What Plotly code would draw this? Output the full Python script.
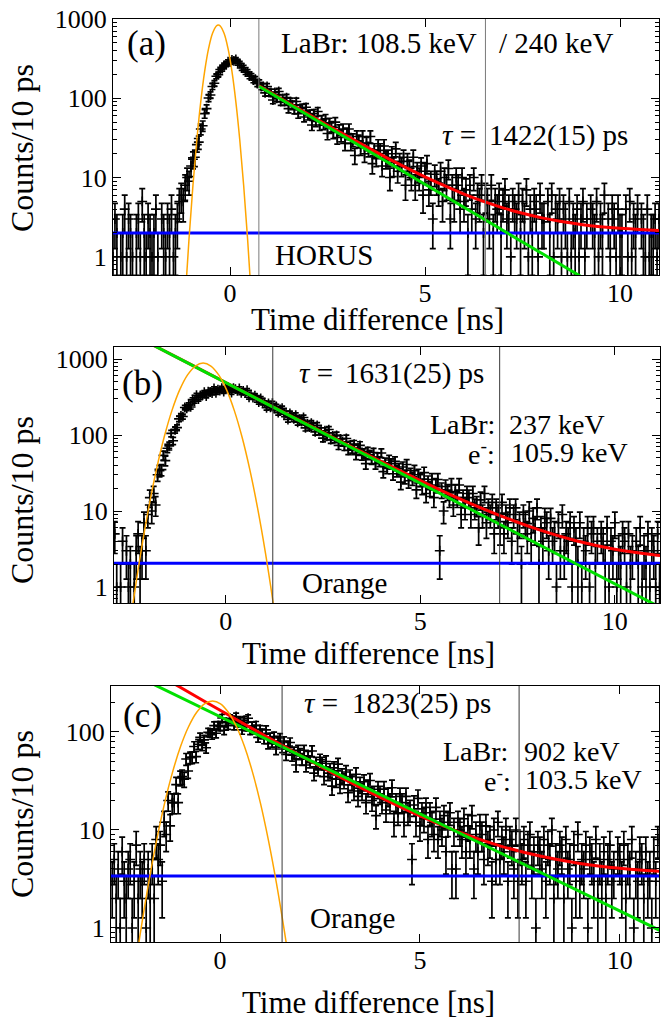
import numpy as np
import plotly.graph_objects as go

W, H = 661, 1021

# ---------------- data: counts per bin, one bin shown every 0.05 ns ----------------
bin_step = 0.05
t0_a, t0_b, t0_c = -3.00, -2.85, -2.70
counts_a = [
    1, 3, 2, 0, 1, 2, 4, 1, 3, 2, 1, 0, 2, 3, 1, 5, 2, 1, 3, 2, 1, 2, 4, 1, 0, 3, 2, 1, 3, 2, 4, 1, 2,
    3, 5, 6, 5, 8, 10, 9, 14, 17, 18, 26, 28, 41, 45, 64, 74, 101, 110, 141, 155, 190, 199, 231, 236,
    261, 266, 289, 285, 304,
    296, 309, 279, 275, 241, 244, 214, 215, 190, 191, 170, 174, 153, 158, 140,
    141, 117, 141, 118, 119, 95, 119, 100, 122, 91, 100, 91, 102, 74, 91, 83, 72, 91, 64, 74,
    75, 58, 77, 61, 63, 46, 64, 51, 68, 46, 53, 47, 55, 36, 49, 44, 37, 50, 32, 40,
    34, 41, 27, 36, 41, 27, 30, 19, 33, 29, 24, 33, 20, 27, 23, 33, 15, 22, 18, 25,
    22, 14, 25, 17, 18, 10, 20, 14, 23, 12, 16, 14, 18, 8, 16, 13, 10, 18, 8, 12,
    10, 14, 6, 12, 15, 7, 9, 3, 11, 9, 7, 12, 5, 10, 8, 13, 3, 8, 5, 10,
    8, 4, 10, 5, 7, 2, 8, 4, 10, 3, 6, 5, 8, 2, 6, 5, 3, 8, 2, 5,
    4, 6, 2, 5, 7, 3, 4, 1, 5, 4, 3, 6, 2, 5, 3, 7, 1, 4, 2, 5,
    4, 1, 6, 3, 3, 0, 5, 2, 6, 1, 4, 3, 5, 1, 4, 3, 1, 5, 1, 3,
    2, 4, 1, 3, 5, 1, 3, 0, 4, 3, 2, 5, 1, 3, 2, 6, 0, 3, 1, 4,
    3, 1, 4, 2, 2, 0, 4, 1, 5, 1, 3, 2, 4, 0, 3, 2, 1, 4, 1, 2,
    2, 3, 1, 3]
counts_b = [
    5, 1, 0, 1, 4, 0, 3, 1, 2, 0, 1, 3, 5, 2,
    3, 7, 3, 9, 15, 10, 17, 12, 30, 34, 35, 54, 46, 67, 72, 105, 84, 117, 125, 163,
    178, 175, 230, 225, 249, 234, 292, 280, 334, 296, 331, 331, 366, 326, 372, 368, 357, 409, 360, 394,
    384, 415, 372, 410, 431,
    401, 362, 414, 401, 381, 411, 359, 381, 358, 388, 314, 336, 311, 330, 310, 271, 303, 266, 266,
    228, 261, 231, 262,
    224, 238, 197, 217, 225, 188, 192, 160, 192, 179, 163, 182, 147, 162, 150, 170, 124, 140, 127, 143,
    133, 110, 134, 112, 114, 91, 114, 96, 118, 87, 97, 89, 99, 73, 89, 81, 71, 90, 63, 74,
    66, 76, 55, 67, 73, 54, 58, 42, 61, 55, 48, 59, 42, 51, 45, 58, 33, 43, 37, 47,
    42, 31, 45, 34, 36, 24, 38, 28, 41, 25, 31, 27, 34, 19, 30, 26, 21, 32, 17, 24,
    20, 26, 15, 22, 26, 3, 19, 10, 21, 18, 15, 22, 12, 18, 15, 22, 9, 15, 11, 17,
    15, 9, 17, 11, 12, 6, 14, 9, 17, 7, 11, 9, 13, 5, 11, 9, 6, 13, 5, 9,
    7, 11, 4, 9, 11, 5, 7, 2, 9, 7, 5, 10, 4, 8, 6, 11, 2, 6, 4, 8,
    7, 3, 8, 4, 5, 1, 7, 3, 9, 3, 5, 4, 7, 1, 6, 4, 2, 7, 1, 4,
    3, 6, 1, 5, 6, 2, 4, 0, 5, 4, 2, 6, 1, 4, 3, 7, 1, 3, 2, 5,
    4, 1, 5, 2, 3, 0, 4, 2, 6, 1, 3, 2, 5, 1, 4, 3, 1, 5, 1]
counts_c = [
    3, 5, 2, 4, 1, 6, 3, 2, 4, 5, 1, 3, 7, 2, 4, 3, 5, 1, 4, 2,
    5, 2, 8, 5, 7, 3, 12, 9, 20, 11, 19, 19, 29, 19, 34, 35, 33, 53, 40, 55,
    55, 71, 56, 75, 88, 73, 83, 69, 99, 98, 94, 116, 97, 117, 113, 139, 104, 124, 117, 138, 134,
    116, 144, 124, 128, 105, 132, 113, 138, 104, 115, 106, 117, 88, 106, 97, 85, 105, 76, 88,
    79, 90, 67, 81, 87,
    70, 80, 59, 72, 78, 58, 62, 46, 65, 60, 53, 65, 46, 56, 50, 64, 38, 48, 42, 52,
    48, 35, 50, 38, 41, 28, 43, 33, 47, 29, 36, 32, 39, 24, 35, 31, 25, 37, 22, 29,
    25, 31, 19, 27, 32, 20, 23, 14, 26, 23, 19, 26, 16, 22, 19, 27, 12, 19, 15, 22,
    19, 12, 22, 15, 16, 5, 18, 12, 21, 11, 15, 13, 17, 8, 15, 12, 9, 17, 8, 12,
    10, 14, 6, 12, 15, 4, 10, 4, 12, 10, 8, 13, 6, 11, 8, 14, 4, 9, 6, 11,
    9, 5, 11, 7, 8, 3, 10, 5, 12, 5, 8, 6, 10, 3, 8, 7, 4, 10, 3, 7,
    5, 8, 3, 7, 9, 4, 6, 1, 7, 6, 4, 8, 3, 7, 5, 10, 2, 5, 4, 7,
    6, 2, 8, 4, 5, 1, 7, 3, 9, 3, 5, 4, 7, 1, 6, 5, 3, 8, 2, 5,
    3, 6, 2, 5, 7, 3, 4, 0, 6, 5, 3, 7, 2, 5, 4, 8, 1, 4, 3, 6,
    5, 2, 6, 3, 4, 1, 6, 3, 8, 2]

# ---------------- fit curves ----------------
red_a_x = [0.74, 1.0, 1.5, 2.0, 2.5, 3.0, 3.5, 4.0, 4.5, 5.0, 5.5, 6.0, 6.5, 7.0, 7.5, 8.0, 8.5, 9.0, 9.5, 10.0, 10.5, 11.0]
red_a_y = [144, 121.2, 87.3, 63.1, 45.7, 33.3, 24.4, 18.0, 13.5, 10.2, 7.9, 6.2, 5.0, 4.15, 3.54, 3.10, 2.79, 2.56, 2.40, 2.29, 2.21, 2.15]
green_a_x = [0.74, 9.2]
green_a_y = [142, 0.494]
orange_a_x = [-1.15, -1.05, -0.95, -0.85, -0.75, -0.65, -0.55, -0.45, -0.35, -0.3, -0.25, -0.15, -0.05, 0.05, 0.15, 0.25, 0.35, 0.45, 0.55]
orange_a_y = [0.294, 1.71, 8.0, 30.0, 90.2, 218, 422, 655, 817, 840, 817, 655, 422, 218, 90.2, 30.0, 8.0, 1.71, 0.294]
bg_a = 2.0
gates_a = [0.74, 6.55]

red_b_x = [-1.9, -1, 0, 1, 2, 3, 4, 5, 6, 7, 8, 9, 10, 11, 11.2]
red_b_y = [1558, 902, 491, 267.6, 146.3, 80.4, 44.7, 25.2, 14.6, 8.9, 5.77, 4.07, 3.15, 2.65, 2.58]
green_b_x = [-1.9, 11.2]
green_b_y = [1556, 0.53]
orange_b_x = [-2.48, -2.38, -2.18, -1.98, -1.78, -1.58, -1.38, -1.18, -0.98, -0.78, -0.58, -0.38, -0.18, 0.02, 0.22, 0.42, 0.62, 0.82, 1.02, 1.22, 1.32]
orange_b_y = [0.27, 0.62, 2.84, 10.9, 35.0, 94, 211, 395, 618, 809, 885, 809, 618, 395, 211, 94, 35.0, 10.9, 2.84, 0.62, 0.27]
bg_b = 2.05
gates_b = [1.21, 7.04]

red_c_x = [-1.2, -1, 0, 1, 2, 3, 4, 5, 6, 7, 8, 9, 10, 11]
red_c_y = [318.9, 285.9, 166.6, 97.6, 57.8, 34.8, 21.6, 13.9, 9.45, 6.89, 5.42, 4.56, 4.07, 3.79]
green_c_x = [-1.7, 11.0]
green_c_y = [311, 0.946]
orange_c_x = [-2.14, -1.99, -1.79, -1.59, -1.39, -1.19, -0.99, -0.79, -0.59, -0.39, -0.19, 0.01, 0.21, 0.41, 0.61, 0.81, 1.01, 1.21, 1.41, 1.61, 1.76]
orange_c_y = [0.36, 0.92, 2.86, 7.8, 18.7, 38.9, 71, 113, 158, 194, 207, 194, 158, 113, 71, 38.9, 18.7, 7.8, 2.86, 0.92, 0.36]
bg_c = 3.4
gates_c = [1.55, 7.48]

panels = [
    dict(t0=t0_a, counts=counts_a, red=(red_a_x, red_a_y), green=(green_a_x, green_a_y),
         orange=(orange_a_x, orange_a_y), bg=bg_a, gates=gates_a, xr=[-3.0, 11.0], yr=[-0.229, 3.0],
         px=(113, 659), py=(19, 275), gate_col='#7a7a7a'),
    dict(t0=t0_b, counts=counts_b, red=(red_b_x, red_b_y), green=(green_b_x, green_b_y),
         orange=(orange_b_x, orange_b_y), bg=bg_b, gates=gates_b, xr=[-2.87, 11.16], yr=[-0.21, 3.158],
         px=(114, 660), py=(347, 603), gate_col='#3a3a3a'),
    dict(t0=t0_c, counts=counts_c, red=(red_c_x, red_c_y), green=(green_c_x, green_c_y),
         orange=(orange_c_x, orange_c_y), bg=bg_c, gates=gates_c, xr=[-2.73, 10.98], yr=[-0.143, 2.469],
         px=(111, 659), py=(686, 942), gate_col='#3a3a3a'),
]

SERIF = 'Liberation Serif'
fig = go.Figure()
shapes = []
minor_vals = [k * 10 ** d for d in range(-1, 4) for k in range(2, 10)]

for i, p in enumerate(panels):
    n = '' if i == 0 else str(i + 1)
    xa, ya = 'x' + n, 'y' + n
    c = np.array(p['counts'], dtype=float)
    t = np.round(p['t0'] + bin_step * np.arange(len(c)), 3)
    y = np.where(c > 0, c, np.nan)
    err = np.sqrt(c)
    fig.add_trace(go.Scatter(
        x=t, y=y, mode='markers', xaxis=xa, yaxis=ya,
        marker=dict(symbol='cross-thin', size=7, color='black', line=dict(color='black', width=1.6)),
        error_y=dict(type='data', array=err, visible=True, color='black', thickness=1.7, width=3),
        hoverinfo='skip'))
    fig.add_trace(go.Scatter(x=[p['xr'][0], p['xr'][1]], y=[p['bg'], p['bg']], mode='lines',
                             xaxis=xa, yaxis=ya, line=dict(color='#0000ff', width=3)))
    fig.add_trace(go.Scatter(x=p['red'][0], y=p['red'][1], mode='lines', xaxis=xa, yaxis=ya,
                             line=dict(color='#ff0000', width=3, shape='spline')))
    fig.add_trace(go.Scatter(x=p['green'][0], y=p['green'][1], mode='lines', xaxis=xa, yaxis=ya,
                             line=dict(color='#00e000', width=3)))
    fig.add_trace(go.Scatter(x=p['orange'][0], y=p['orange'][1], mode='lines', xaxis=xa, yaxis=ya,
                             line=dict(color='#ffa500', width=1.5, shape='spline')))
    for g in p['gates']:
        shapes.append(dict(type='line', xref=xa, yref=ya + ' domain', x0=g, x1=g, y0=0, y1=1,
                           line=dict(color=p['gate_col'], width=1), layer='above'))
    common = dict(showline=True, linecolor='black', linewidth=1, mirror='allticks', ticks='inside',
                  ticklen=8, tickwidth=1, tickcolor='black', showgrid=False, zeroline=False,
                  automargin=False, tickfont=dict(family=SERIF, size=26, color='black'))
    fig.update_layout(**{
        'xaxis' + n: dict(common, domain=[p['px'][0] / W, p['px'][1] / W], anchor=ya, range=p['xr'],
                          tickvals=[0, 5, 10], ticktext=['0', '5', '10'], ticklabelstandoff=-5),
        'yaxis' + n: dict(common, domain=[1 - p['py'][1] / H, 1 - p['py'][0] / H], anchor=xa, type='log',
                          range=p['yr'], tickvals=[1, 10, 100, 1000], ticktext=['1', '10', '100', '1000'],
                          minor=dict(tickvals=minor_vals, ticks='inside', ticklen=4, tickcolor='black',
                                     showgrid=False)),
    })


def ann(text, x, y, size=29, xanchor='left', angle=0):
    return dict(text=text, x=x / W, y=1 - y / H, xref='paper', yref='paper', showarrow=False,
                xanchor=xanchor, yanchor='middle', textangle=angle,
                font=dict(family=SERIF, size=size, color='black'))


annotations = [
    ann('(a)', 146, 43, size=35, xanchor='center'),
    ann('LaBr: 108.5 keV', 279, 43),
    ann('/ 240 keV', 497, 43),
    ann('<i>τ</i> =', 478, 135, xanchor='right'),
    ann('1422(15) ps', 487, 135),
    ann('HORUS', 273, 255),
    ann('(b)', 142, 383, size=35, xanchor='center'),
    ann('<i>τ</i> =', 335, 373, xanchor='right'),
    ann('1631(25) ps', 343, 373),
    ann('LaBr:', 497, 424, size=28, xanchor='right'),
    ann('237 keV', 507, 424, size=28),
    ann('e<sup>-</sup>:', 497, 453, size=28, xanchor='right'),
    ann('105.9 keV', 509, 453, size=28),
    ann('Orange', 300, 583),
    ann('(c)', 142, 715, size=35, xanchor='center'),
    ann('<i>τ</i> =', 340, 703, xanchor='right'),
    ann('1823(25) ps', 350, 703),
    ann('LaBr:', 510, 751, size=28, xanchor='right'),
    ann('902 keV', 522, 751, size=28),
    ann('e<sup>-</sup>:', 513, 779, size=28, xanchor='right'),
    ann('103.5 keV', 523, 779, size=28),
    ann('Orange', 308, 918),
]
for yc in (148, 500, 814):
    annotations.append(ann('Counts/10 ps', 22, yc, size=32, xanchor='center', angle=-90))
for xc, yc in ((377, 319), (368, 653), (368, 1002)):
    annotations.append(ann('Time difference [ns]', xc, yc, size=31, xanchor='center'))

fig.update_layout(width=W, height=H, margin=dict(l=0, r=0, t=0, b=0, autoexpand=False), showlegend=False,
                  plot_bgcolor='white', paper_bgcolor='white', shapes=shapes, annotations=annotations)
fig.write_html('out.html')
